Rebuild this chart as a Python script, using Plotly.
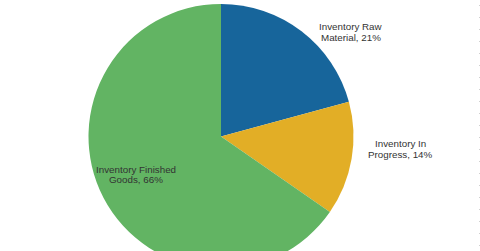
import plotly.graph_objects as go

labels = ["Inventory Raw Material", "Inventory In Progress", "Inventory Finished Goods"]
values = [21, 14, 66]
label_lines = [["Inventory Raw", "Material, 21%"], ["Inventory In", "Progress, 14%"], ["Inventory Finished", "Goods, 66%"]]
colors = ["#17659b", "#e2ae26", "#62b463"]

W, H = 480, 270
cx, cy, r = 221, 136.5, 132.5

fig = go.Figure(go.Pie(
    labels=labels, values=values, sort=False, direction="clockwise", rotation=0,
    marker=dict(colors=colors, line=dict(width=0)),
    textinfo="none", hoverinfo="label+percent", showlegend=False,
    domain=dict(x=[(cx - r) / W, (cx + r) / W], y=[(H - cy - r) / H, (H - cy + r) / H]),
))

label_pos = [(351, 32), (400, 149), (136, 174.5)]
line_gap = 10.7
for lines, (px, py) in zip(label_lines, label_pos):
    for i, t in enumerate(lines):
        ly = py + (i - (len(lines) - 1) / 2) * line_gap
        fig.add_annotation(x=px / W, y=(H - ly) / H, xref="paper", yref="paper",
                           text=t, showarrow=False, xanchor="center", yanchor="middle",
                           font=dict(family="Liberation Sans, Arial", size=9.8, color="#333333"))

fig.add_shape(type="line", xref="paper", yref="paper", x0=479.5 / W, x1=479.5 / W, y0=0, y1=1,
              line=dict(color="#d0d0d0", width=1, dash="1px,11px"))

fig.update_layout(width=W, height=H, margin=dict(l=0, r=0, t=0, b=0),
                  paper_bgcolor="white", plot_bgcolor="white")

fig.write_html("out.html", post_script="document.documentElement.style.overflow='hidden';document.body.style.overflow='hidden';document.body.style.margin='0';")
